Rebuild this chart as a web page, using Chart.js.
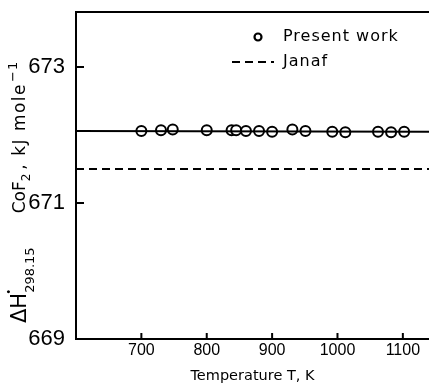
<!DOCTYPE html>
<html>
<head>
<meta charset="utf-8">
<script src="https://cdn.jsdelivr.net/npm/chart.js@4/dist/chart.umd.min.js"></script>
<style>
  html, body { margin: 0; padding: 0; background: #fff; overflow: hidden; }
  #wrap { width: 429px; height: 389px; overflow: hidden; }
</style>
</head>
<body>
<div id="wrap"><canvas id="c" width="436" height="389"></canvas></div>
<script>
// measured points (Temperature, K  ->  dH kJ/mol)
var tempK = [700, 730, 748, 800, 838, 845, 860, 880, 900, 931, 951, 992, 1012, 1062, 1082, 1102];
var dH = [672.06, 672.07, 672.08, 672.07, 672.07, 672.07, 672.06, 672.06, 672.05, 672.08, 672.06, 672.05, 672.04, 672.05, 672.04, 672.05];
// mean line of present work and Janaf value, drawn across the whole axis
var lineT = [600, 1140];
var presentMean = [672.06, 672.05];
var janaf = [671.5, 671.5];
var xTicks = [700, 800, 900, 1000, 1100];
var yTicks = [669, 671, 673];

var FONT = "'DejaVu Sans', sans-serif";

// inward tick marks, top frame line, legend, y title with sub/superscripts
var decor = {
  id: "decor",
  afterDraw: function(chart) {
    var ctx = chart.ctx, a = chart.chartArea;
    var xs = chart.scales.x, ys = chart.scales.y;
    ctx.save();
    ctx.strokeStyle = "#000";
    ctx.lineWidth = 2;
    ctx.beginPath();
    ctx.moveTo(a.left - 1, a.top);
    ctx.lineTo(chart.width, a.top);
    yTicks.forEach(function(v) {
      var p = ys.getPixelForValue(v);
      ctx.moveTo(a.left, p);
      ctx.lineTo(a.left + 8, p);
    });
    xTicks.forEach(function(v) {
      var p = xs.getPixelForValue(v);
      ctx.moveTo(p, a.bottom);
      ctx.lineTo(p, a.bottom - 6);
    });
    ctx.stroke();

    // legend
    ctx.fillStyle = "#000";
    ctx.font = "16px " + FONT;
    ctx.letterSpacing = "1px";
    ctx.textBaseline = "middle";
    ctx.beginPath();
    ctx.lineWidth = 2.2;
    ctx.arc(258, 37, 3.5, 0, Math.PI * 2);
    ctx.stroke();
    ctx.fillText(chart.data.datasets[1].label, 283, 37);
    ctx.beginPath();
    ctx.setLineDash([8, 5]);
    ctx.moveTo(232, 62);
    ctx.lineTo(274, 62);
    ctx.stroke();
    ctx.setLineDash([]);
    ctx.fillText(chart.data.datasets[2].label, 283, 62);

    // y axis title, rotated
    ctx.translate(26, 323);
    ctx.rotate(-Math.PI / 2);
    ctx.textBaseline = "alphabetic";
    var parts = [
      ["\u0394H", 21, 0, 0, 0],
      ["\u2022", 10, -14, 0, 0],
      ["298.15", 13, 8, 34, 0],
      ["CoF", 17, -1, 0, 0],
      ["2", 12, 4, 4, 0],
      [", kJ mole", 17, -1, 1, 1.5],
      ["\u22121", 13, -9, 0, 1]
    ];
    var x = 0;
    parts.forEach(function(p) {
      ctx.font = p[1] + "px " + FONT;
      ctx.letterSpacing = p[4] + "px";
      if (p[0] === "\u2022") {
        ctx.fillText(p[0], x - 2, p[2]);
        return;
      }
      ctx.fillText(p[0], x, p[2]);
      x += ctx.measureText(p[0]).width + p[3];
    });
    ctx.restore();
  }
};

new Chart(document.getElementById("c"), {
  type: "scatter",
  data: {
    datasets: [
      {
        label: "fit",
        type: "line",
        data: lineT.map(function(t, i) { return { x: t, y: presentMean[i] }; }),
        borderColor: "#000",
        borderWidth: 2,
        pointRadius: 0,
        fill: false
      },
      {
        label: "Present work",
        data: tempK.map(function(t, i) { return { x: t, y: dH[i] }; }),
        pointStyle: "circle",
        pointRadius: 5,
        pointBorderWidth: 2,
        pointBorderColor: "#000",
        pointBackgroundColor: "#fff"
      },
      {
        label: "Janaf",
        type: "line",
        data: lineT.map(function(t, i) { return { x: t, y: janaf[i] }; }),
        borderColor: "#000",
        borderWidth: 2,
        borderDash: [8, 5],
        pointRadius: 0,
        fill: false
      }
    ]
  },
  options: {
    responsive: false,
    animation: false,
    layout: { padding: { top: 12, right: 0, left: 0, bottom: 0 } },
    plugins: { legend: { display: false }, tooltip: { enabled: false } },
    scales: {
      x: {
        type: "linear",
        min: 600,
        max: 1140,
        grid: { display: false },
        border: { display: true, color: "#000", width: 2 },
        afterBuildTicks: function(s) { s.ticks = xTicks.map(function(v) { return { value: v }; }); },
        afterFit: function(s) { s.height = 50; s.paddingLeft = 0; s.paddingRight = 0; },
        ticks: {
          color: "#000", padding: -6, maxRotation: 0,
          font: { family: "'Liberation Sans', sans-serif", size: 16 },
          callback: function(v) { return String(v); }
        },
        title: {
          display: true,
          text: "Temperature T, K",
          color: "#000",
          padding: { top: 0, bottom: 4 },
          font: { family: FONT, size: 14.5 }
        }
      },
      y: {
        min: 669,
        max: 673.81,
        grid: { display: false },
        border: { display: true, color: "#000", width: 2 },
        afterBuildTicks: function(s) { s.ticks = yTicks.map(function(v) { return { value: v }; }); },
        afterFit: function(s) { s.width = 76; s.paddingTop = 0; s.paddingBottom = 0; },
        ticks: { color: "#000", padding: 3, font: { family: "'Liberation Sans', sans-serif", size: 22 } }
      }
    }
  },
  plugins: [decor]
});
</script>
</body>
</html>
